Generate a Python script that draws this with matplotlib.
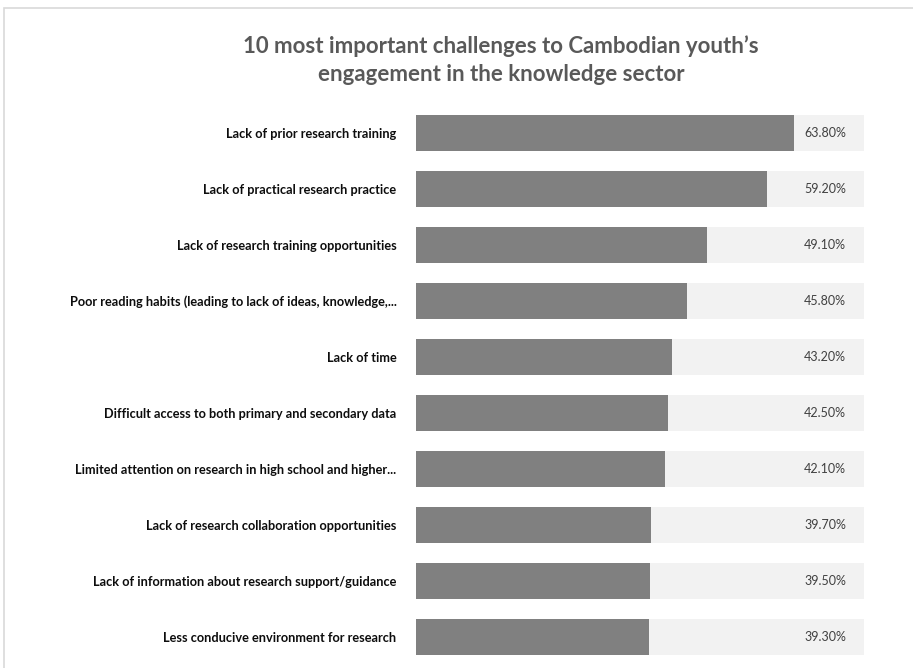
import matplotlib.pyplot as plt
from matplotlib.patches import Rectangle

# survey shares, top to bottom
challenges = [
    "Lack of prior research training",
    "Lack of practical research practice",
    "Lack of research training opportunities",
    "Poor reading habits (leading to lack of ideas, knowledge,...",
    "Lack of time",
    "Difficult access to both primary and secondary data",
    "Limited attention on research in high school and higher...",
    "Lack of research collaboration opportunities",
    "Lack of information about research support/guidance",
    "Less conducive environment for research",
]
shares = [63.8, 59.2, 49.1, 45.8, 43.2, 42.5, 42.1, 39.7, 39.5, 39.3]

x_max = 75.6
W, H = 913, 668

plt.rcParams['font.family'] = ['Lato', 'DejaVu Sans']

fig = plt.figure(figsize=(W / 100, H / 100), dpi=100)
fig.patch.set_facecolor('white')

# light frame around the chart area (runs off the right and bottom edges)
fig.add_artist(Rectangle((4 / W, -0.05), 1.2, 1 - 8 / H + 0.05,
                         transform=fig.transFigure, fill=False,
                         edgecolor='#d9d9d9', linewidth=1.2))

ax = fig.add_axes([416 / W, 1 - 665 / H, (864 - 416) / W, (665 - 105) / H])

y = list(range(len(challenges)))
ax.barh(y, [x_max] * len(y), height=0.643, color='#f2f2f2', zorder=1)
ax.barh(y, shares, height=0.643, color='#808080', zorder=2)

for yi, v in zip(y, shares):
    ax.text(x_max * 0.96, yi, f"{v:.2f}%", ha='right', va='center',
            fontsize=9, color='#404040', zorder=3)

ax.set_xlim(0, x_max)
ax.set_ylim(len(y) - 0.5, -0.5)
ax.set_yticks(y)
ax.set_yticklabels(challenges, fontsize=9.2, fontweight='bold', color='#0d0d0d')
ax.tick_params(axis='y', length=0, pad=14)
ax.set_xticks([])
for s in ax.spines.values():
    s.set_visible(False)

fig.text(501 / W, 1 - 60 / H,
         "10 most important challenges to Cambodian youth\u2019s\nengagement in the knowledge sector",
         ha='center', va='center', fontsize=16, fontweight='bold',
         color='#595959', linespacing=1.4)

fig.savefig('out.png', dpi=100)
